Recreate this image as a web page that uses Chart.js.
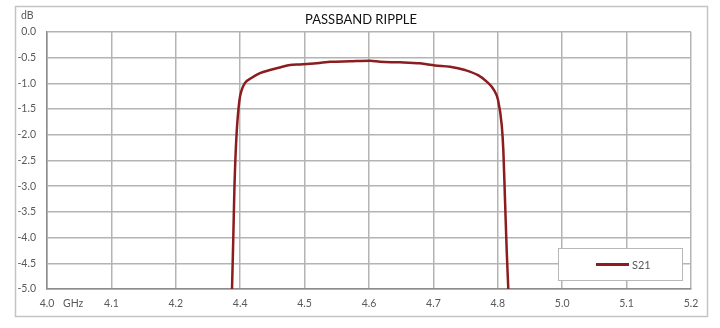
<!DOCTYPE html>
<html>
<head>
<meta charset="utf-8">
<script src="https://cdn.jsdelivr.net/npm/chart.js@4.4.1/dist/chart.umd.min.js"></script>
<style>
    body { margin: 0; background: #fff; }
    #wrap { width: 720px; height: 328px; position: relative; }
</style>
</head>
<body>
<div id="wrap"><canvas id="rippleChart"></canvas></div>
<script>
// S21 response, frequency in GHz and loss in dB
const freqGHz = [4.3873, 4.3893, 4.3911, 4.3943, 4.3989, 4.4023, 4.4075, 4.4179, 4.4307, 4.4463,
    4.4618, 4.4773, 4.4929, 4.5084, 4.5394, 4.5705, 4.6016, 4.6171, 4.6481, 4.6792,
    4.7025, 4.7258, 4.7491, 4.7693, 4.7832, 4.7941, 4.8003, 4.8061, 4.8086, 4.8112,
    4.8138, 4.8163];
const s21 = [-5.0, -3.99, -3.0, -2.0, -1.32, -1.13, -0.99, -0.89, -0.80, -0.74,
    -0.69, -0.64, -0.63, -0.62, -0.58, -0.57, -0.56, -0.58, -0.59, -0.61,
    -0.65, -0.675, -0.74, -0.84, -0.97, -1.13, -1.32, -1.81, -2.3, -3.27,
    -4.24, -5.0];

// printed tick labels, as they appear on the original (no 4.3 / 4.9)
const xTickLabels = ["4.0", "4.1", "4.2", "4.4", "4.5", "4.6", "4.7", "4.8", "5.0", "5.1", "5.2"];

const chartTitle = "PASSBAND RIPPLE";
const seriesName = "S21";

const FONT = "Lato, 'Open Sans', sans-serif";
const LINE_COLOR = "#8b1c1f";
const TEXT_GRAY = "#595959";

let points = freqGHz.map((f, i) => ({ x: f, y: s21[i] }));

// frame, title, unit labels and the boxed legend
const decorPlugin = {
    id: "decor",
    beforeDraw(chart) {
        let ctx = chart.ctx;
        ctx.save();
        ctx.fillStyle = "#fff";
        ctx.fillRect(0, 0, chart.width, chart.height);
        ctx.strokeStyle = "#c4c4c4";
        ctx.lineWidth = 1.5;
        ctx.strokeRect(15.5, 6.5, 692, 310);
        ctx.restore();
    },
    afterDatasetsDraw(chart) {
        let ctx = chart.ctx;
        ctx.save();
        // legend box
        ctx.fillStyle = "#fff";
        ctx.fillRect(558, 248, 124, 32);
        ctx.strokeStyle = "#b8b8b8";
        ctx.lineWidth = 1;
        ctx.strokeRect(558.5, 248.5, 124, 32);
        ctx.strokeStyle = LINE_COLOR;
        ctx.lineWidth = 3;
        ctx.beginPath();
        ctx.moveTo(596, 264.5);
        ctx.lineTo(629, 264.5);
        ctx.stroke();
        ctx.fillStyle = TEXT_GRAY;
        ctx.font = "11px " + FONT;
        ctx.textBaseline = "middle";
        ctx.textAlign = "left";
        ctx.fillText(seriesName, 632, 265);

        // title
        ctx.fillStyle = "#111";
        ctx.font = "13px " + FONT;
        ctx.textAlign = "center";
        ctx.fillText(chartTitle, 361, 20);

        // units
        ctx.fillStyle = TEXT_GRAY;
        ctx.font = "10.5px " + FONT;
        ctx.textAlign = "left";
        ctx.fillText("dB", 21, 16);
        ctx.fillText("GHz", 63, 304);
        ctx.restore();
    }
};

let ctx = document.getElementById("rippleChart").getContext("2d");
new Chart(ctx, {
    type: "line",
    data: {
        datasets: [{
            label: seriesName,
            data: points,
            borderColor: LINE_COLOR,
            borderWidth: 2.5,
            pointRadius: 0,
            cubicInterpolationMode: "monotone",
            fill: false
        }]
    },
    options: {
        responsive: true,
        maintainAspectRatio: false,
        animation: false,
        layout: { padding: { left: 0, right: 29, top: 32, bottom: 0 } },
        plugins: {
            legend: { display: false },
            title: { display: false },
            tooltip: { enabled: false }
        },
        scales: {
            x: {
                type: "linear",
                min: 4.1,
                max: 5.1,
                afterFit: (scale) => { scale.height = 39; },
                afterBuildTicks: (scale) => {
                    scale.ticks = xTickLabels.map((_, i) => ({ value: 4.1 + i * 0.1 }));
                },
                ticks: {
                    autoSkip: false,
                    maxRotation: 0,
                    padding: 8,
                    color: TEXT_GRAY,
                    font: { family: FONT, size: 10.5 },
                    callback: (v, i) => xTickLabels[i]
                },
                grid: { color: "#b4b4b4", lineWidth: 1.5, drawTicks: false },
                border: { color: "#8c8c8c", width: 1.5 }
            },
            y: {
                min: -5,
                max: 0,
                afterFit: (scale) => { scale.width = 47; },
                ticks: {
                    stepSize: 0.5,
                    padding: 11,
                    color: TEXT_GRAY,
                    font: { family: FONT, size: 10.5 },
                    callback: (v) => Number(v).toFixed(1)
                },
                grid: { color: "#b4b4b4", lineWidth: 1.5, drawTicks: false },
                border: { color: "#8c8c8c", width: 1.5 }
            }
        }
    },
    plugins: [decorPlugin]
});
</script>
</body>
</html>
